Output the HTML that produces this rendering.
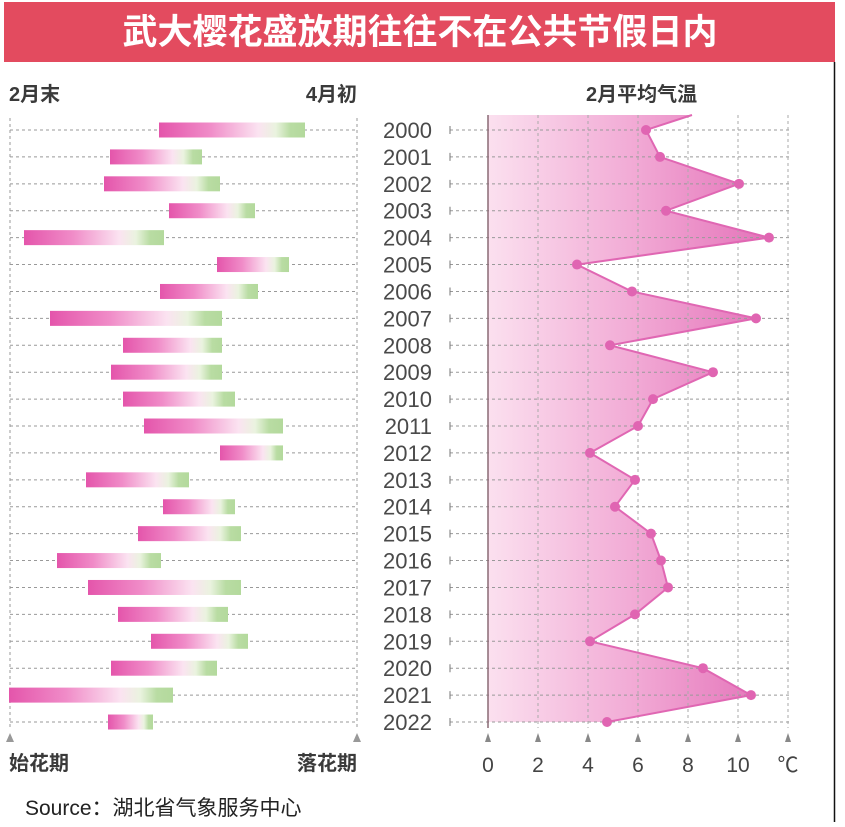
<!DOCTYPE html>
<html><head><meta charset="utf-8"><style>
body{margin:0;background:#fff;}
svg text{font-family:"Liberation Sans","Noto Sans CJK SC",sans-serif;}
</style></head><body>
<svg width="845" height="822" viewBox="0 0 845 822" xmlns="http://www.w3.org/2000/svg">
<defs>
<linearGradient id="bar" x1="0" y1="0" x2="1" y2="0">
<stop offset="0" stop-color="#e455ab"/>
<stop offset="0.35" stop-color="#f08cc8"/>
<stop offset="0.68" stop-color="#fbe3f1"/>
<stop offset="0.8" stop-color="#eaf3df"/>
<stop offset="0.9" stop-color="#b9dca3"/>
<stop offset="1" stop-color="#b3d99c"/>
</linearGradient>
<linearGradient id="fill" gradientUnits="userSpaceOnUse" x1="488" y1="0" x2="770" y2="0">
<stop offset="0" stop-color="#fbe0ef"/>
<stop offset="0.5" stop-color="#f2acd6"/>
<stop offset="1" stop-color="#e472b9"/>
</linearGradient>
</defs>
<rect x="4" y="2" width="831" height="60" fill="#e34b5f"/>
<text x="420" y="44" text-anchor="middle" font-size="35" font-weight="bold" fill="#fff">武大樱花盛放期往往不在公共节假日内</text>
<line x1="834.5" y1="62" x2="834.5" y2="822" stroke="#111" stroke-width="1.5"/>
<g font-size="20" fill="#3a3a3a" font-weight="bold">
<text x="9" y="101">2月末</text>
<text x="357" y="101" text-anchor="end">4月初</text>
<text x="586" y="101">2月平均气温</text>
<text x="9" y="770">始花期</text>
<text x="357" y="770" text-anchor="end">落花期</text>
</g>
<g stroke="#999" stroke-width="1" stroke-dasharray="3,3" fill="none">
<line x1="10" y1="118" x2="10" y2="728"/>
<line x1="357" y1="118" x2="357" y2="728"/>
</g>
<path d="M6 742 L10 733 L14 742Z M353 742 L357 733 L361 742Z" fill="#999"/>
<g id="rows"></g>
<g id="right"></g>
<text x="25" y="815" font-size="21" fill="#222">Source：湖北省气象服务中心</text>
<script>
var ns="http://www.w3.org/2000/svg";
function el(n,a,p){var e=document.createElementNS(ns,n);for(var k in a)e.setAttribute(k,a[k]);(p||document.querySelector('svg')).appendChild(e);return e;}
var bars=[[159,305],[110,202],[104,220],[169,255],[24,164],[217,289],[160,258],[50,222],[123,222],[111,222],[123,235],[144,283],[220,283],[86,189],[163,235],[138,241],[57,161],[88,241],[118,228],[151,248],[111,217],[9,173],[108,153]];
var tx=[646,660,739,666,769,577,632,756,610,713,653,638,590,635,615,651,661,668,635,590,703,751,607];
var rows=document.getElementById('rows'),right=document.getElementById('right');
function Y(i){return 130+i*26.91;}
var pts="488,115 692,115 ";
for(var i=0;i<23;i++)pts+=tx[i]+","+Y(i).toFixed(1)+" ";
pts+="488,"+Y(22).toFixed(1);
el('polygon',{points:pts,fill:"url(#fill)"},right);
for(var i=0;i<23;i++){
 var y=Y(i);
 el('line',{x1:10,y1:y,x2:357,y2:y,stroke:"#999","stroke-dasharray":"3,3"},rows);
 el('rect',{x:bars[i][0],y:y-7.5,width:bars[i][1]-bars[i][0],height:15,fill:"url(#bar)"},rows);
 el('line',{x1:450,y1:y,x2:790,y2:y,stroke:"#999","stroke-dasharray":"3,3"},right);
 el('line',{x1:450,y1:y-4,x2:450,y2:y+4,stroke:"#777"},right);
 var t=el('text',{x:432,y:y+8,"text-anchor":"end","font-size":"22",fill:"#4a4a4a"},right);t.textContent=2000+i;
}
for(var k=1;k<=6;k++){var x=488+50*k;
 el('line',{x1:x,y1:115,x2:x,y2:728,stroke:"#aaa","stroke-dasharray":"3,3"},right);}
el('line',{x1:488,y1:115,x2:488,y2:728,stroke:"#8a6a75","stroke-width":1.5},right);
for(var k=0;k<=6;k++){var x=488+50*k;
 el('path',{d:"M"+(x-3)+" 742 L"+x+" 733 L"+(x+3)+" 742Z",fill:"#888"},right);
 var t=el('text',{x:x,y:772,"text-anchor":"middle","font-size":"21",fill:"#444"},right);t.textContent=k<6?2*k:"℃";}
var lp="692,115 ";for(var i=0;i<23;i++)lp+=tx[i]+","+Y(i).toFixed(1)+" ";
el('polyline',{points:lp,fill:"none",stroke:"#e067b3","stroke-width":2},right);
for(var i=0;i<23;i++)el('circle',{cx:tx[i],cy:Y(i),r:5,fill:"#e065b2"},right);
</script>
</svg>
</body></html>
